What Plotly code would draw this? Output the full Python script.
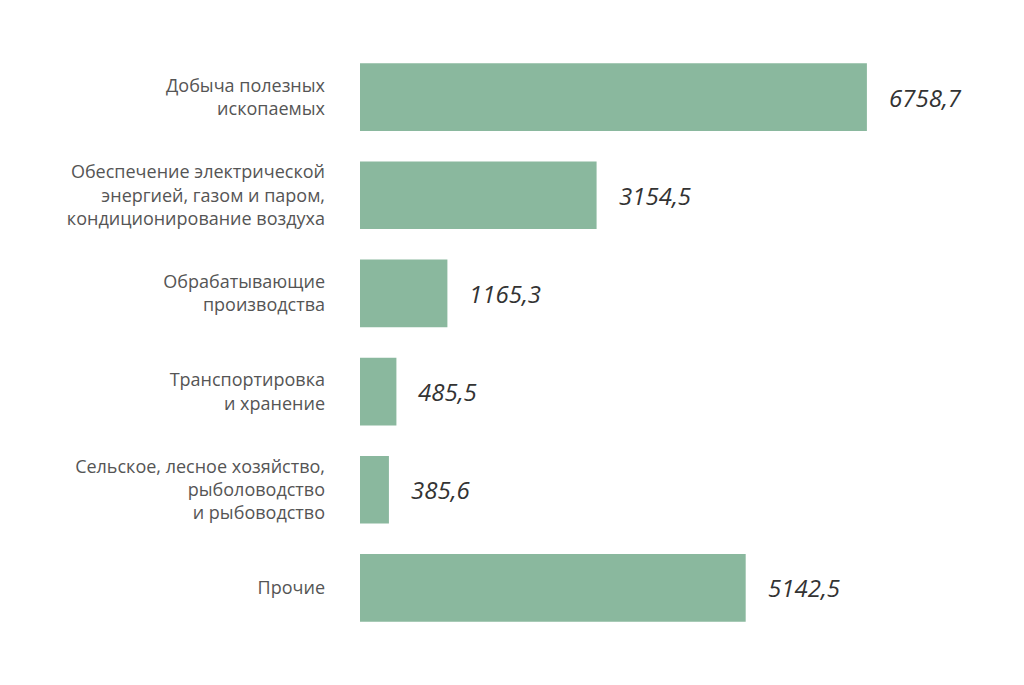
import plotly.graph_objects as go

# Sectors and values
sectors = [
    "Добыча полезных<br>ископаемых",
    "Обеспечение электрической<br>энергией, газом и паром,<br>кондиционирование воздуха",
    "Обрабатывающие<br>производства",
    "Транспортировка<br>и хранение",
    "Сельское, лесное хозяйство,<br>рыболоводство<br>и рыбоводство",
    "Прочие",
]
values = [6758.7, 3154.5, 1165.3, 485.5, 385.6, 5142.5]
value_labels = ["6758,7", "3154,5", "1165,3", "485,5", "385,6", "5142,5"]

fig = go.Figure()
fig.add_trace(go.Bar(
    x=values, y=sectors, orientation="h",
    marker=dict(color="#8ab89e", line=dict(width=0)),
    hoverinfo="skip",
))

for v, s, t in zip(values, sectors, value_labels):
    fig.add_annotation(x=v, y=s, text="<i>" + t + "</i>", showarrow=False,
                       xanchor="left", yanchor="middle", xshift=20,
                       font=dict(family="Open Sans", size=24, color="#333333"))

fig.update_layout(
    width=1024, height=685,
    margin=dict(l=352, r=72, t=40, b=56),
    paper_bgcolor="white", plot_bgcolor="white",
    bargap=0.31,
    showlegend=False,
    font=dict(family="Open Sans", size=18, color="#555555"),
    xaxis=dict(range=[0, 8000], visible=False, fixedrange=True),
    yaxis=dict(autorange="reversed", showgrid=False, zeroline=False,
               showline=False, ticks="", ticklabelstandoff=34,
               tickfont=dict(size=18, color="#555555")),
)

fig.write_html("out.html")
